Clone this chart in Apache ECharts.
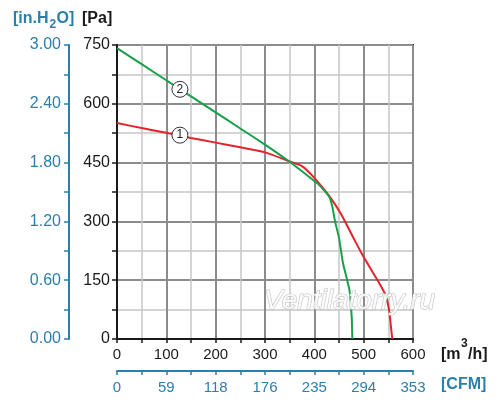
<!DOCTYPE html>
<html><head><meta charset="utf-8">
<script src="https://cdn.jsdelivr.net/npm/echarts@6/dist/echarts.min.js"></script>
<style>html,body{margin:0;padding:0;background:#fff}#c{width:500px;height:407px}</style>
</head><body><div id="c"></div>
<script>
// Flow [m3/h] vs pressure [Pa]
const curve1 = [[0,551],[50,538],[100,526],[150,513],[200,501],[250,489],[300,476],[350,453],[375,441],[400,411],[430,365],[455,317],[480,256],[500,209],[530,146],[545,110],[552,70],[555,35],[558,0]];
const curve2 = [[0,742],[50,701],[100,660],[150,619],[200,578],[250,537],[300,496],[350,452],[390,413],[410,393],[430,363],[436,340],[442,300],[450,258],[458,194],[465,158],[471,126],[474,90],[476,50],[477,0]];
const curveLabels = ['1','2'];
const labelPos1 = [127.5, 520];
const labelPos2 = [127.5, 637];
const cfmLabels = ['0','59','118','176','235','294','353'];
const inH2OMax = 3.0;

const FONT = '"Liberation Sans", Arial, Helvetica, sans-serif';
const BLACK = '#1a1a1a';
const BLUE = '#2a7fab';
const DARK = '#8c8c8c';
const LIGHT = '#c6c6c6';

const chart = echarts.init(document.getElementById('c'));

function markFor(pos, txt) {
  return {
    symbol: 'circle', symbolSize: 16, silent: true, animation: false,
    itemStyle: { color: '#fff', borderColor: '#333', borderWidth: 1 },
    label: { show: true, position: 'inside', formatter: txt, color: '#222', fontSize: 12, fontFamily: FONT },
    data: [{ coord: pos }]
  };
}

chart.setOption({
  animation: false,
  backgroundColor: '#fff',
  grid: { left: 117, right: 87, top: 45, bottom: 68, show: true, borderColor: BLACK, borderWidth: 2, backgroundColor: 'transparent' },
  xAxis: [
    {
      type: 'value', min: 0, max: 600, interval: 100, position: 'bottom',
      axisLine: { show: true, onZero: false, lineStyle: { color: BLACK, width: 2 } },
      axisTick: { show: true, length: 4, lineStyle: { color: BLACK, width: 1.5 } },
      minorTick: { show: true, splitNumber: 2, length: 4, lineStyle: { color: BLACK, width: 1.5 } },
      splitLine: { show: true, lineStyle: { color: DARK, width: 2 } },
      minorSplitLine: { show: true, lineStyle: { color: LIGHT, width: 1.5 } },
      axisLabel: { color: BLACK, fontSize: 15, margin: 8, fontFamily: FONT }
    },
    {
      type: 'value', min: 0, max: 600, interval: 100, position: 'bottom', offset: 32,
      axisLine: { show: true, onZero: false, lineStyle: { color: BLUE, width: 2 } },
      axisTick: { show: true, length: 4, lineStyle: { color: BLUE, width: 1.5 } },
      minorTick: { show: true, splitNumber: 2, length: 4, lineStyle: { color: BLUE, width: 1.5 } },
      splitLine: { show: false },
      axisLabel: { color: BLUE, fontSize: 15, margin: 9, fontFamily: FONT,
        formatter: v => cfmLabels[Math.round(v / 100)] }
    }
  ],
  yAxis: [
    {
      type: 'value', min: 0, max: 750, interval: 150, position: 'left',
      axisLine: { show: true, onZero: false, lineStyle: { color: BLACK, width: 2 } },
      axisTick: { show: true, length: 5, lineStyle: { color: BLACK, width: 1.5 } },
      minorTick: { show: true, splitNumber: 2, length: 5, lineStyle: { color: BLACK, width: 1.5 } },
      splitLine: { show: true, lineStyle: { color: DARK, width: 2 } },
      minorSplitLine: { show: true, lineStyle: { color: LIGHT, width: 1.5 } },
      axisLabel: { color: BLACK, fontSize: 16, margin: 7, fontFamily: FONT }
    },
    {
      type: 'value', min: 0, max: inH2OMax, interval: 0.6, position: 'left', offset: 48,
      axisLine: { show: true, onZero: false, lineStyle: { color: BLUE, width: 2 } },
      axisTick: { show: true, length: 5, lineStyle: { color: BLUE, width: 1.5 } },
      minorTick: { show: true, splitNumber: 2, length: 5, lineStyle: { color: BLUE, width: 1.5 } },
      splitLine: { show: false },
      axisLabel: { color: BLUE, fontSize: 16, margin: 8, fontFamily: FONT, formatter: v => v.toFixed(2) }
    }
  ],
  series: [
    {
      type: 'line', name: '1', data: curve1, xAxisIndex: 0, yAxisIndex: 0,
      showSymbol: false, smooth: 0.15,
      lineStyle: { color: '#e3232a', width: 2 }, z: 3,
      markPoint: markFor(labelPos1, curveLabels[0])
    },
    {
      type: 'line', name: '2', data: curve2, xAxisIndex: 0, yAxisIndex: 0,
      showSymbol: false, smooth: 0.15,
      lineStyle: { color: '#17a04a', width: 2 }, z: 3,
      markPoint: markFor(labelPos2, curveLabels[1])
    }
  ],
  graphic: [
    { type: 'text', x: 13, y: 11, style: { text: '[in.H', fill: BLUE, font: 'bold 16px ' + FONT } },
    { type: 'text', x: 49.5, y: 19, style: { text: '2', fill: BLUE, font: 'bold 12px ' + FONT } },
    { type: 'text', x: 56.5, y: 11, style: { text: 'O]', fill: BLUE, font: 'bold 16px ' + FONT } },
    { type: 'text', x: 82, y: 11, style: { text: '[Pa]', fill: BLACK, font: 'bold 16px ' + FONT } },
    { type: 'text', x: 441, y: 347, style: { text: '[m', fill: BLACK, font: 'bold 16px ' + FONT } },
    { type: 'text', x: 461, y: 338, style: { text: '3', fill: BLACK, font: 'bold 12px ' + FONT } },
    { type: 'text', x: 468, y: 347, style: { text: '/h]', fill: BLACK, font: 'bold 16px ' + FONT } },
    { type: 'text', x: 441, y: 377, style: { text: '[CFM]', fill: BLUE, font: 'bold 16px ' + FONT } },
    { type: 'text', x: 264, y: 287, z: 100, silent: true,
      style: { text: 'Ventilatorry.ru', fill: 'rgba(255,255,255,0.85)', stroke: '#c4c4c4', lineWidth: 1.2,
               font: 'italic 28px ' + FONT } }
  ]
});
</script></body></html>
